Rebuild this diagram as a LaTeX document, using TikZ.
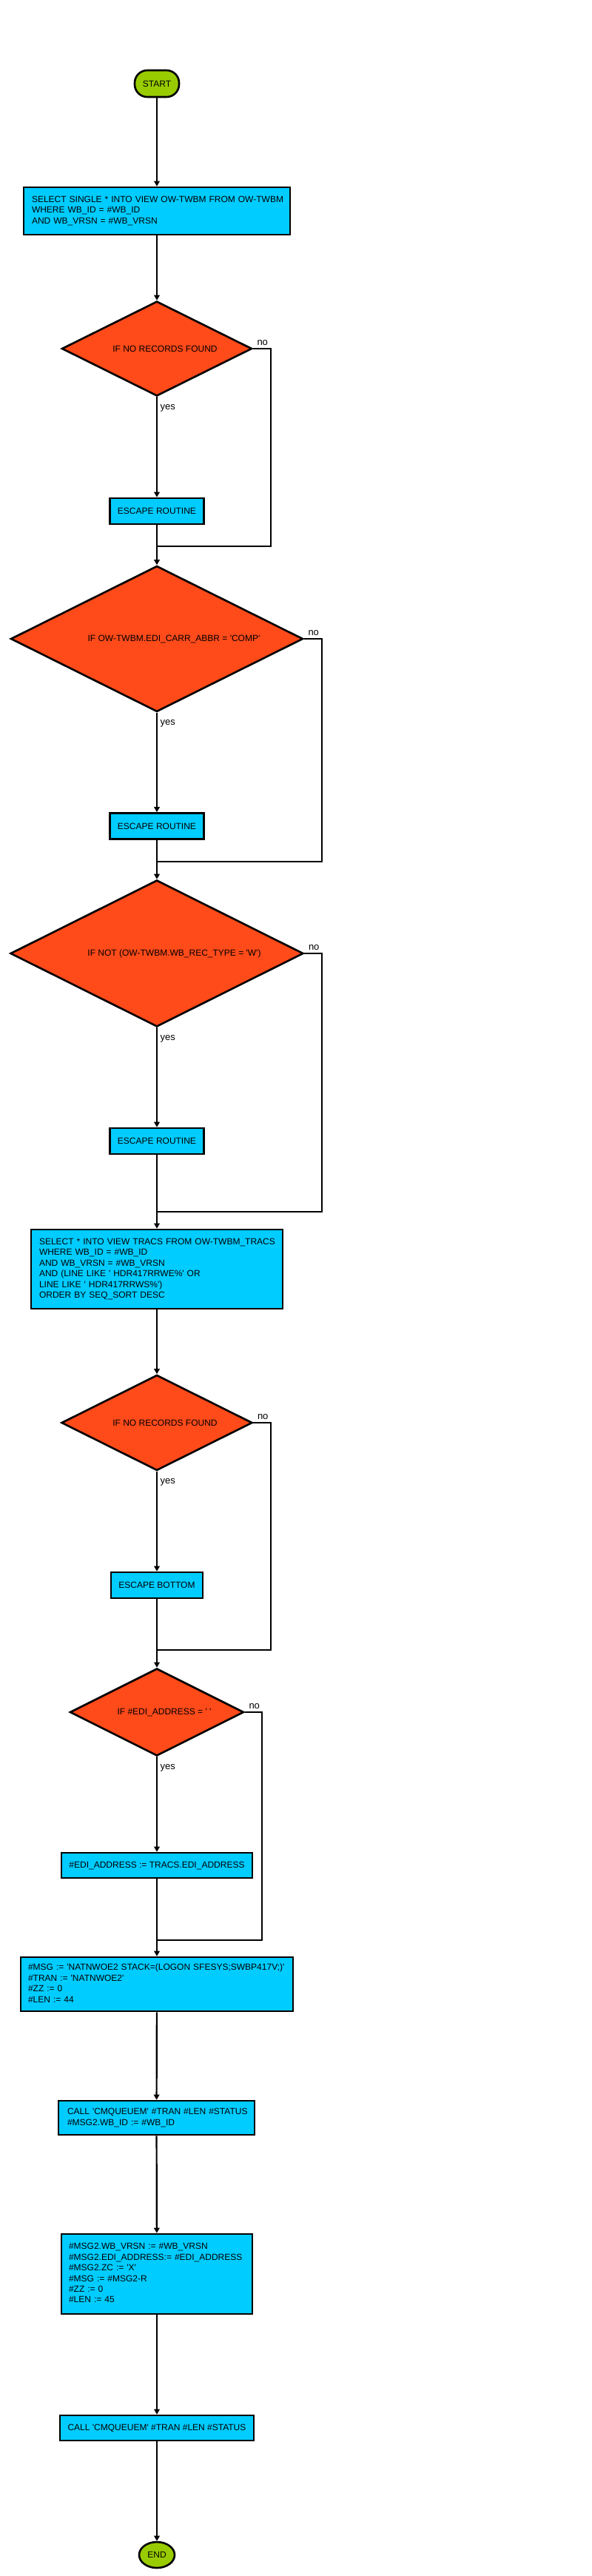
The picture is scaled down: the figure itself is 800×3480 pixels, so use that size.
\documentclass[tikz,border=0pt]{standalone}
\usepackage{fontspec}
\setmainfont{Liberation Sans}[Ligatures=TeXOff]
\usetikzlibrary{shapes.geometric,arrows.meta}
\definecolor{boxblue}{HTML}{00CCFF}
\definecolor{decred}{HTML}{FF4A1A}
\definecolor{termgreen}{HTML}{99CC00}
\newcommand\tlines[1]{\begin{tabular}{@{}l@{}}#1\end{tabular}}
\begin{document}
\begin{tikzpicture}[x=1pt,y=-1pt,
  txt/.style={font=\fontsize{12}{14.4}\selectfont},
  lbox/.style={txt, draw, fill=boxblue, line width=2.6pt, align=left, inner sep=0pt},
  cbox/.style={txt, draw, fill=boxblue, line width=2.6pt, align=center, inner sep=0pt},
  dec/.style={txt, diamond, draw, fill=decred, line width=2.6pt, inner sep=0pt, aspect=2},
  term/.style={txt, draw, fill=termgreen, line width=2.6pt, inner sep=0pt},
  conn/.style={draw, line width=2.2pt},
  arr/.style={conn, -{Triangle[length=7pt,width=7.5pt]}},
  lab/.style={font=\fontsize{13}{15}\selectfont, inner sep=0.5pt}
]
\useasboundingbox (0,0) rectangle (800,3480);
\fill[white] (0,0) rectangle (800,3480);

% nodes
\node[term, rounded corners=17pt, minimum width=60pt, minimum height=36pt] (start) at (212,113) {START};
\node[lbox, minimum width=360pt, minimum height=64pt, text width=338pt] (sel1) at (212,285)
  {\tlines{SELECT SINGLE * INTO VIEW OW-TWBM FROM OW-TWBM\\WHERE WB\_ID = \#WB\_ID\\AND WB\_VRSN = \#WB\_VRSN}};
\node[dec, minimum width=257pt, minimum height=128pt] (d1) at (212,471) {\hspace*{22pt}IF NO RECORDS FOUND};
\node[cbox, minimum width=127pt, minimum height=35pt] (esc1) at (212,690.5) {ESCAPE ROUTINE};
\node[dec, minimum width=395pt, minimum height=197pt] (d2) at (212,863) {\hspace*{46pt}IF OW-TWBM.EDI\_CARR\_ABBR = 'COMP'};
\node[cbox, minimum width=127pt, minimum height=35pt] (esc2) at (212,1116) {ESCAPE ROUTINE};
\node[dec, minimum width=396pt, minimum height=198pt] (d3) at (212,1288) {\hspace*{47pt}IF NOT (OW-TWBM.WB\_REC\_TYPE = 'W')};
\node[cbox, minimum width=127pt, minimum height=35pt] (esc3) at (212,1541.5) {ESCAPE ROUTINE};
\node[lbox, minimum width=340pt, minimum height=107pt, text width=318pt] (sel2) at (212,1714.5)
  {\tlines{SELECT * INTO VIEW TRACS FROM OW-TWBM\_TRACS\\WHERE WB\_ID = \#WB\_ID\\AND WB\_VRSN = \#WB\_VRSN\\AND (LINE LIKE ' HDR417RRWE\%' OR\\LINE LIKE ' HDR417RRWS\%')\\ORDER BY SEQ\_SORT DESC}};
\node[dec, minimum width=258pt, minimum height=129pt] (d4) at (212,1922) {\hspace*{22pt}IF NO RECORDS FOUND};
\node[cbox, minimum width=124pt, minimum height=35pt] (escb) at (212,2141.5) {ESCAPE BOTTOM};
\node[dec, minimum width=235pt, minimum height=118pt] (d5) at (212,2313) {\hspace*{20pt}IF \#EDI\_ADDRESS = ' '};
\node[cbox, minimum width=258pt, minimum height=34pt] (edi) at (212,2520) {\#EDI\_ADDRESS := TRACS.EDI\_ADDRESS};
\node[lbox, minimum width=368pt, minimum height=73pt, text width=348pt] (msg) at (212,2680.5)
  {\tlines{\#MSG := 'NATNWOE2 STACK=(LOGON SFESYS;SWBP417V;)'\\\#TRAN := 'NATNWOE2'\\\#ZZ := 0\\\#LEN := 44}};
\node[lbox, minimum width=265pt, minimum height=46pt, text width=241pt] (call1) at (211.5,2861)
  {\tlines{CALL 'CMQUEUEM' \#TRAN \#LEN \#STATUS\\\#MSG2.WB\_ID := \#WB\_ID}};
\node[lbox, minimum width=258pt, minimum height=108pt, text width=238pt] (msg2) at (212,3072)
  {\tlines{\#MSG2.WB\_VRSN := \#WB\_VRSN\\\#MSG2.EDI\_ADDRESS:= \#EDI\_ADDRESS\\\#MSG2.ZC := 'X'\\\#MSG := \#MSG2-R\\\#ZZ := 0\\\#LEN := 45}};
\node[cbox, minimum width=262pt, minimum height=34pt] (call2) at (212,3280) {CALL 'CMQUEUEM' \#TRAN \#LEN \#STATUS};
\node[term, ellipse, minimum width=48pt, minimum height=35pt] (end) at (212,3451.5) {END};

% merge points
\coordinate (m1) at (212,738);
\coordinate (m2) at (212,1164);
\coordinate (m3) at (212,1637);
\coordinate (m4) at (212,2229);
\coordinate (m5) at (212,2621);

% connectors
\draw[arr] (start) -- (sel1);
\draw[arr] (sel1) -- (d1);
\draw[arr] (d1.south) -- (esc1);
\draw[conn] (esc1) -- (m1);
\draw[conn] (d1.east) -- ++(24,0) |- (m1);
\draw[arr] (m1) -- (d2.north);
\draw[arr] (d2.south) -- (esc2);
\draw[conn] (esc2) -- (m2);
\draw[conn] (d2.east) -- ++(24,0) |- (m2);
\draw[arr] (m2) -- (d3.north);
\draw[arr] (d3.south) -- (esc3);
\draw[conn] (esc3) -- (m3);
\draw[conn] (d3.east) -- ++(24,0) |- (m3);
\draw[arr] (m3) -- (sel2.north);
\draw[arr] (sel2) -- (d4);
\draw[arr] (d4.south) -- (escb);
\draw[conn] (escb) -- (m4);
\draw[conn] (d4.east) -- ++(24,0) |- (m4);
\draw[arr] (m4) -- (d5.north);
\draw[arr] (d5.south) -- (edi);
\draw[conn] (edi) -- (m5);
\draw[conn] (d5.east) -- ++(23,0) |- (m5);
\draw[arr] (m5) -- (msg.north);
\draw[arr] (msg) -- (call1);
\draw[arr] (call1) -- (msg2);
\draw[arr] (msg2) -- (call2);
\draw[arr] (call2) -- (end);

% yes / no labels
\foreach \d in {d1,d2,d3,d4,d5}{
  \node[lab, anchor=base west] (yes-\d) at ([xshift=4pt,yshift=-17pt]\d.south) {yes};
  \node[lab, anchor=base west] (no-\d) at ([xshift=5pt,yshift=5pt]\d.east) {no};
}
\end{tikzpicture}
\end{document}
